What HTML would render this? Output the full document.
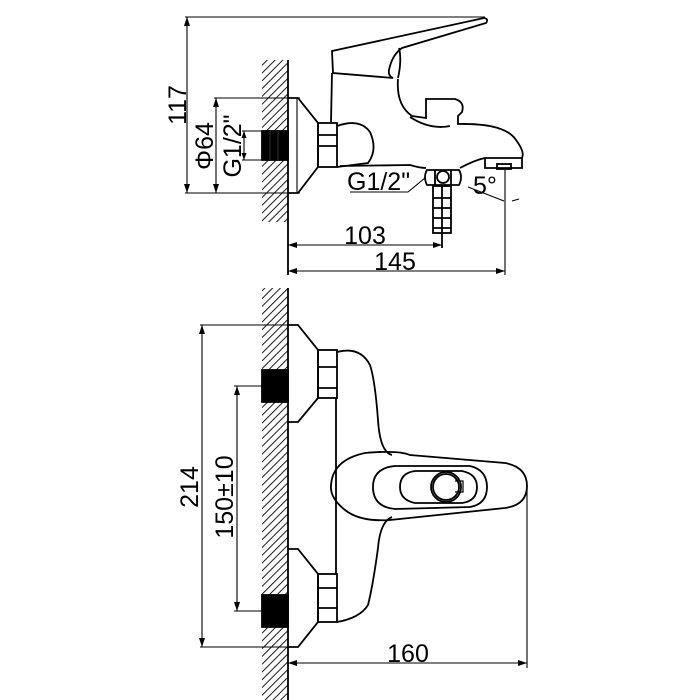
<!DOCTYPE html>
<html><head><meta charset="utf-8"><style>
html,body{margin:0;padding:0;background:#fff;}
svg{display:block;}
text{font-family:"Liberation Sans",sans-serif;fill:#000;}
</style></head><body>
<svg width="700" height="700" viewBox="0 0 700 700" xmlns="http://www.w3.org/2000/svg">
<defs>
<pattern id="h" width="5.5" height="5.5" patternUnits="userSpaceOnUse" patternTransform="rotate(45)">
<line x1="0" y1="0" x2="0" y2="5.5" stroke="#000" stroke-width="1.8"/>
</pattern>
</defs>
<g fill="none" stroke="#000" stroke-width="1.8">
<!-- ===== TOP VIEW ===== -->
<rect x="262" y="60" width="26" height="162" fill="url(#h)" stroke="none"/>
<line x1="288" y1="60" x2="288" y2="275"/>
<rect x="262" y="131" width="26" height="29" fill="#000"/>
<line x1="270" y1="131" x2="270" y2="160" stroke="#555" stroke-width="0.6"/>
<line x1="278" y1="131" x2="278" y2="160" stroke="#555" stroke-width="0.6"/>
<!-- dims -->
<line x1="185" y1="17" x2="485" y2="17" stroke-width="1.1"/>
<line x1="187" y1="17" x2="187" y2="193" stroke-width="1.1"/>
<line x1="185" y1="193" x2="300" y2="193" stroke-width="1.1"/>
<line x1="214" y1="98" x2="300" y2="98" stroke-width="1.1"/>
<line x1="216" y1="98" x2="216" y2="193" stroke-width="1.1"/>
<line x1="242" y1="131" x2="262" y2="131" stroke-width="1.1"/>
<line x1="242" y1="160" x2="262" y2="160" stroke-width="1.1"/>
<line x1="244" y1="131" x2="244" y2="160" stroke-width="1.1"/>
<!-- flange -->
<path d="M288,98 L298,98 L318,123 L318,167 L298,193 L288,193"/>
<line x1="297" y1="98" x2="297" y2="193" stroke-width="1.1"/>
<rect x="318" y="123" width="19" height="44"/>
<line x1="318" y1="135" x2="337" y2="135"/>
<line x1="318" y1="146" x2="337" y2="146"/>
<path d="M337,126 Q360,118 370,132 Q378,150 368,163 L337,167"/>
<!-- handle -->
<path d="M332,51 L484,18 Q489,19 486,23 L402,48 Q392,55 389,70 Q388,76 393,78 L333,73 Z"/>
<path d="M399,48 Q402,60 398,78"/>
<path d="M332,73 L331,122"/>
<path d="M398,79 Q396,105 412,116 L426,118 L426,99 L455,99 Q465,102 462,112 L458,116 L458,124 Q505,123 516,140 Q525,152 522,158"/>
<path d="M410,117 Q430,130 450,126"/>
<path d="M340,166 L410,165 Q420,168 426,168 M460,168 Q475,160 485,158"/>
<!-- outlet -->
<path d="M485,158 L522,158 L522,168 L485,168 Z"/>
<rect x="497" y="164" width="14" height="5"/>
<line x1="505" y1="168" x2="505" y2="275" stroke-width="1.1"/>
<!-- diverter nut -->
<path d="M427,170 L459,170 Q463,177 459,185 L427,185 Q423,177 427,170 Z"/>
<circle cx="443" cy="177" r="6"/>
<line x1="435" y1="170" x2="435" y2="185"/>
<line x1="451" y1="170" x2="451" y2="185"/>
<rect x="433" y="186" width="18" height="47"/>
<line x1="442" y1="186" x2="442" y2="248"/>
<line x1="433" y1="198" x2="451" y2="198"/><line x1="433" y1="208" x2="451" y2="208"/><line x1="433" y1="218" x2="451" y2="218"/><line x1="433" y1="228" x2="451" y2="228"/>
<path d="M350,192 L408,192 L425,178" stroke-width="1.1"/>
<path d="M468,187 L504,201" stroke-width="1.1"/>
<line x1="512" y1="201" x2="519" y2="199" stroke-width="1.1"/>
<line x1="288" y1="245" x2="442" y2="245" stroke-width="1.1"/>
<line x1="288" y1="271" x2="505" y2="271" stroke-width="1.1"/>

<!-- ===== BOTTOM VIEW ===== -->
<rect x="262" y="288" width="26" height="412" fill="url(#h)" stroke="none"/>
<line x1="288" y1="288" x2="288" y2="700"/>
<rect x="262" y="370" width="26" height="32" fill="#000"/>
<rect x="262" y="595" width="26" height="32" fill="#000"/>
<line x1="200" y1="325" x2="288" y2="325" stroke-width="1.1"/>
<line x1="200" y1="647" x2="288" y2="647" stroke-width="1.1"/>
<line x1="202" y1="325" x2="202" y2="647" stroke-width="1.1"/>
<line x1="234" y1="386" x2="262" y2="386" stroke-width="1.1"/>
<line x1="234" y1="611" x2="262" y2="611" stroke-width="1.1"/>
<line x1="237" y1="386" x2="237" y2="611" stroke-width="1.1"/>
<path d="M288,325 L298,325 L318,350 L318,398 L298,422 L288,422"/>
<rect x="318" y="350" width="19" height="48"/>
<line x1="318" y1="367" x2="337" y2="367"/><line x1="318" y1="388" x2="337" y2="388"/>
<path d="M288,549 L298,549 L318,574 L318,622 L298,647 L288,647"/>
<rect x="318" y="574" width="19" height="48"/>
<line x1="318" y1="588" x2="337" y2="588"/><line x1="318" y1="608" x2="337" y2="608"/>
<path d="M337,352 Q360,346 370,365 Q375,380 378,420 Q380,452 392,455"/>
<path d="M337,622 Q360,618 368,605 Q373,585 378,548 Q380,522 392,517"/>
<line x1="336" y1="398" x2="336" y2="574"/>
<path d="M365,453 Q398,450 410,455 L505,463 Q527,467 527,486 Q527,505 505,508 L390,520 Q360,522 345,510 Q330,498 331,486 Q332,460 365,453 Z"/>
<path d="M395,466 L470,466 Q487,470 487,487 Q487,504 470,507 L395,509 Q373,507 373,487 Q373,468 395,466 Z"/>
<path d="M415,471 L462,471 Q477,474 477,487 Q477,501 462,503 L415,503 Q400,500 400,487 Q400,473 415,471 Z"/>
<circle cx="446" cy="487" r="15"/>
<circle cx="446" cy="487" r="13"/>
<path d="M455,481 L463,481 L463,492 L455,492" stroke-width="1.2"/>
<line x1="527" y1="486" x2="527" y2="668" stroke-width="1.1"/>
<line x1="288" y1="663" x2="527" y2="663" stroke-width="1.1"/>
</g>
<g fill="#000">
<path d="M187,17 l-3,9 h6z"/><path d="M187,193 l-3,-9 h6z"/>
<path d="M216,98 l-3,9 h6z"/><path d="M216,193 l-3,-9 h6z"/>
<path d="M244,131 l-2.5,7 h5z"/><path d="M244,160 l-2.5,-7 h5z"/>
<path d="M288,245 l9,-3 v6z"/><path d="M442,245 l-9,-3 v6z"/>
<path d="M288,271 l9,-3 v6z"/><path d="M505,271 l-9,-3 v6z"/>
<path d="M202,325 l-3,9 h6z"/><path d="M202,647 l-3,-9 h6z"/>
<path d="M237,386 l-3,9 h6z"/><path d="M237,611 l-3,-9 h6z"/>
<path d="M288,663 l9,-3 v6z"/><path d="M527,663 l-9,-3 v6z"/>
</g>
<g font-size="25">
<text x="0" y="0" transform="translate(186,105) rotate(-90)" text-anchor="middle">117</text>
<text x="0" y="0" transform="translate(213,146) rotate(-90)" text-anchor="middle">Φ64</text>
<text x="0" y="0" transform="translate(241,146) rotate(-90)" text-anchor="middle">G1/2"</text>
<text x="347" y="190">G1/2"</text>
<text x="473" y="194">5°</text>
<text x="365" y="244" text-anchor="middle">103</text>
<text x="395" y="270" text-anchor="middle">145</text>
<text x="0" y="0" transform="translate(198,487) rotate(-90)" text-anchor="middle">214</text>
<text x="0" y="0" transform="translate(233,497) rotate(-90)" text-anchor="middle">150±10</text>
<text x="408" y="662" text-anchor="middle">160</text>
</g>
</svg>
</body></html>
